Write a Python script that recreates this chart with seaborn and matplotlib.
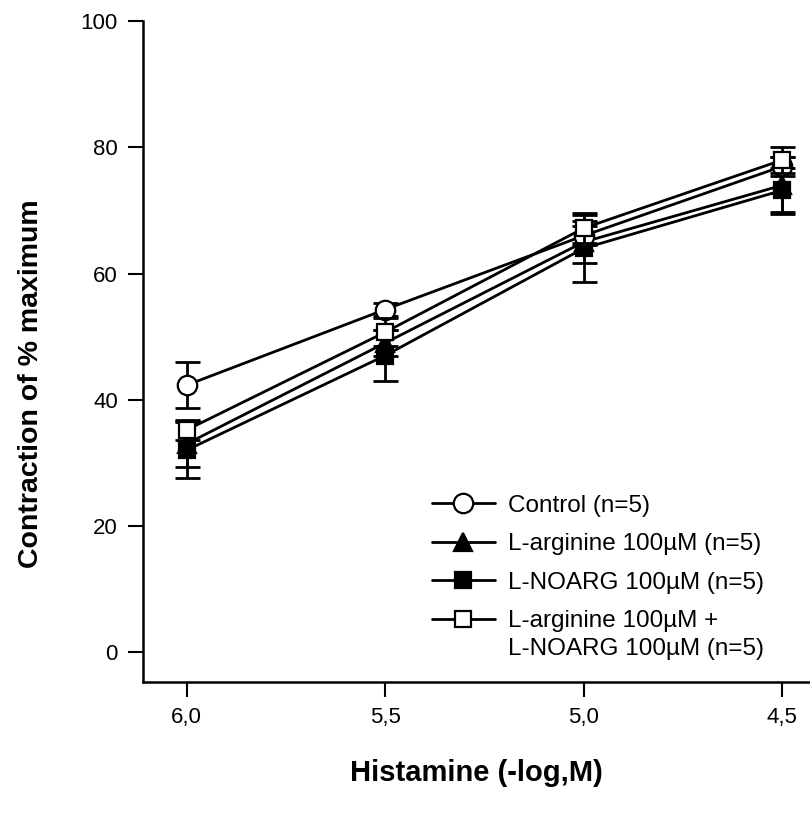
import numpy as np
import pandas as pd
import matplotlib
matplotlib.use("Agg")
import matplotlib.pyplot as plt
import seaborn as sns
from matplotlib.lines import Line2D

# ==========================================
# DADOS
# ==========================================
histamina = [6.0, 5.5, 5.0, 4.5]
rotulos_x = ['6,0', '5,5', '5,0', '4,5']

grupos = ['Control (n=5)', 'L-arginine 100µM (n=5)', 'L-NOARG 100µM (n=5)',
          'L-arginine 100µM +']
segunda_linha = 'L-NOARG 100µM (n=5)'

media_controle = [42.3, 54.3, 66.0, 77.0]
erro_controle = [3.6, 1.0, 1.5, 1.5]

media_larginina = [33.0, 49.0, 65.0, 74.0]
erro_larginina = [3.7, 2.0, 3.4, 4.5]

media_lnoarg = [32.0, 47.0, 64.0, 73.2]
erro_lnoarg = [4.4, 4.0, 5.3, 3.5]

media_combinado = [35.2, 50.7, 67.2, 78.0]
erro_combinado = [1.6, 2.2, 2.4, 2.0]

df = pd.DataFrame({
    'Histamina': histamina * 4,
    'Contracao': media_controle + media_larginina + media_lnoarg + media_combinado,
    'Erro': erro_controle + erro_larginina + erro_lnoarg + erro_combinado,
    'Grupo': np.repeat(grupos, 4),
})

estilos = {
    grupos[0]: dict(marker='o', ms=14, mfc='white', z=4),
    grupos[1]: dict(marker='^', ms=13, mfc='black', z=2),
    grupos[2]: dict(marker='s', ms=12, mfc='black', z=3),
    grupos[3]: dict(marker='s', ms=12, mfc='white', z=5),
}

# ==========================================
# GRÁFICO
# ==========================================
sns.set_theme(style="ticks")
plt.rcParams['font.family'] = ['Liberation Sans', 'DejaVu Sans']

fig = plt.figure(figsize=(8.1, 8.19), dpi=100)
ax = fig.add_axes([0.1765, 0.167, 0.8235, 0.807])

for grupo in grupos:
    d = df[df['Grupo'] == grupo]
    est = estilos[grupo]
    ax.errorbar(d['Histamina'], d['Contracao'], yerr=d['Erro'], fmt='none',
                ecolor='black', elinewidth=2, capsize=9, capthick=2, zorder=est['z'] - 0.5)
    sns.lineplot(data=d, x='Histamina', y='Contracao', ax=ax, color='black',
                 linewidth=2, marker=est['marker'], markersize=est['ms'],
                 markerfacecolor=est['mfc'], markeredgecolor='black',
                 markeredgewidth=1.6, zorder=est['z'], legend=False)

ax.set_xlim(6.11, 4.43)
ax.set_ylim(-4.8, 100)
ax.set_xticks(histamina)
ax.set_xticklabels(rotulos_x)
ax.set_yticks([0, 20, 40, 60, 80, 100])

for lado in ['top', 'right']:
    ax.spines[lado].set_visible(False)
for lado in ['left', 'bottom']:
    ax.spines[lado].set_linewidth(1.8)
    ax.spines[lado].set_color('black')
ax.tick_params(axis='both', direction='out', length=11, width=1.5, color='black',
               labelsize=16, labelcolor='black', pad=7)

ax.set_xlabel('Histamine (-log,M)', fontsize=21, fontweight='bold', labelpad=22, color='black')
ax.set_ylabel('Contraction of % maximum', fontsize=20.5, fontweight='bold', color='black')
ax.yaxis.set_label_coords(-0.148, 0.452)

handles = []
for grupo in grupos:
    est = estilos[grupo]
    handles.append(Line2D([], [], color='black', linewidth=2, marker=est['marker'],
                          markersize=est['ms'], markerfacecolor=est['mfc'],
                          markeredgecolor='black', markeredgewidth=1.6))
leg = ax.legend(handles, grupos, loc='upper left', bbox_to_anchor=(0.433, 0.284),
                frameon=False, fontsize=17.5, handlelength=2.6, handletextpad=0.55,
                labelspacing=0.68, borderpad=0, borderaxespad=0, labelcolor='black')

# segunda linha do último item, logo abaixo do texto da legenda
fig.canvas.draw()
bb = leg.get_texts()[-1].get_window_extent()
x0, y0 = fig.transFigure.inverted().transform((bb.x0, bb.y0 - 28))
fig.text(x0, y0, segunda_linha, fontsize=17.5, color='black', ha='left', va='bottom')

fig.savefig('out.png', dpi=100, facecolor='white')
